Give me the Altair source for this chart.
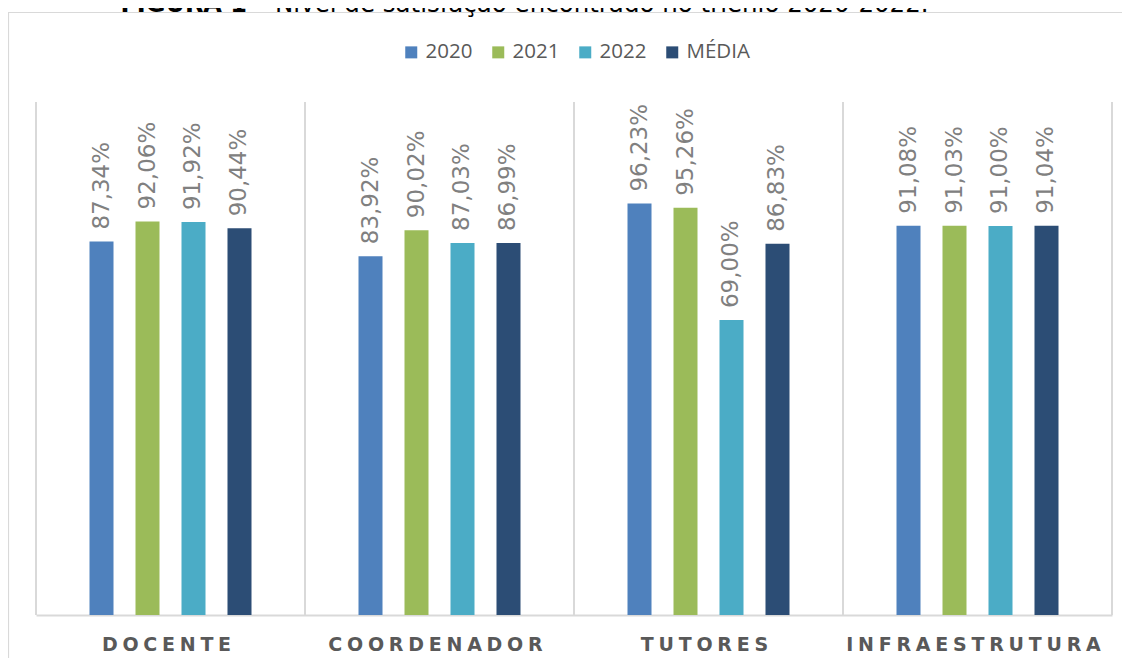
import altair as alt
import pandas as pd

categories = ["DOCENTE", "COORDENADOR", "TUTORES", "INFRAESTRUTURA"]
series = ["2020", "2021", "2022", "MÉDIA"]
values_2020 = [87.34, 83.92, 96.23, 91.08]
values_2021 = [92.06, 90.02, 95.26, 91.03]
values_2022 = [91.92, 87.03, 69.00, 91.00]
values_media = [90.44, 86.99, 86.83, 91.04]
colors = ["#4f81bd", "#9bbb59", "#4bacc6", "#2c4d75"]
title_bold = "FIGURA 1"
title_rest = "– Nível de satisfação encontrado no triênio 2020-2022."

rows = []
for s, vals in zip(series, [values_2020, values_2021, values_2022, values_media]):
    for c, v in zip(categories, vals):
        rows.append({"categoria": c, "serie": s, "valor": v,
                     "rotulo": f"{v:.2f}".replace(".", ",") + "%"})
df = pd.DataFrame(rows)
df_sep = pd.DataFrame({"categoria": categories})

W, H = 1076, 513
GRID = "#d9d9d9"

x_axis = alt.Axis(
    title=None, labelAngle=0, grid=False, ticks=False,
    domainColor=GRID, domainWidth=2,
    labelFont="DejaVu Sans", labelFontWeight="bold", labelFontSize=19,
    labelColor="#595959", labelPadding=20, labelLimit=1000, labelOffset=-4,
    labelExpr="join(split(datum.label, ''), '\u2005')",
)
x_scale = alt.Scale(paddingInner=0, paddingOuter=0)

base = alt.Chart(df).encode(
    x=alt.X("categoria:N", sort=categories, scale=x_scale, axis=x_axis),
    xOffset=alt.XOffset("serie:N", sort=series,
                        scale=alt.Scale(range=[53.5, 215.5], paddingInner=0.478, paddingOuter=0)),
    y=alt.Y("valor:Q", scale=alt.Scale(domain=[0, 120], nice=False), axis=None),
)

bars = base.mark_bar().encode(
    color=alt.Color(
        "serie:N", sort=series,
        scale=alt.Scale(domain=series, range=colors),
        legend=alt.Legend(
            title=None, orient="none", legendX=365, legendY=-60,
            direction="horizontal", columns=4,
            symbolType="square", symbolSize=144, symbolStrokeWidth=0,
            labelFont="Open Sans", labelFontSize=20.5, labelColor="#595959",
            columnPadding=15, labelOffset=4,
        ),
    )
)

labels = base.mark_text(
    angle=270, align="left", baseline="middle", dx=12,
    font="DejaVu Sans", fontSize=23, color="#808080",
).encode(text="rotulo:N")

seps = alt.Chart(df_sep).mark_rule(color=GRID, strokeWidth=2).encode(
    x=alt.X("categoria:N", sort=categories, scale=x_scale, axis=x_axis, bandPosition=0),
    y=alt.value(0), y2=alt.value(H),
)
right_sep = alt.Chart(df_sep.head(1)).mark_rule(color=GRID, strokeWidth=2).encode(
    x=alt.value(W), y=alt.value(0), y2=alt.value(H),
)

frame = alt.Chart(df_sep.head(1)).mark_rect(
    fill="transparent", stroke=GRID, strokeWidth=1.2,
).encode(
    x=alt.value(-27.5), x2=alt.value(W + 80),
    y=alt.value(-89.5), y2=alt.value(H + 120),
)

t1 = alt.Chart(pd.DataFrame({"t": [title_bold]})).mark_text(
    align="right", baseline="alphabetic", font="DejaVu Sans",
    fontWeight="bold", fontSize=24, color="#000000",
).encode(x=alt.value(211), y=alt.value(-90), text="t:N")
t2 = alt.Chart(pd.DataFrame({"t": [title_rest]})).mark_text(
    align="left", baseline="alphabetic", font="DejaVu Sans",
    fontSize=24.5, color="#000000",
).encode(x=alt.value(219), y=alt.value(-90), text="t:N")

chart = alt.layer(frame, seps, right_sep, bars, labels, t1, t2).properties(
    width=W, height=H,
    padding={"left": 28, "top": 94, "right": 10, "bottom": 43},
    autosize=alt.AutoSizeParams(type="none"),
    background="white",
).configure_view(stroke=None)

chart.save("out.html", embed_options={"renderer": "svg", "actions": False})
